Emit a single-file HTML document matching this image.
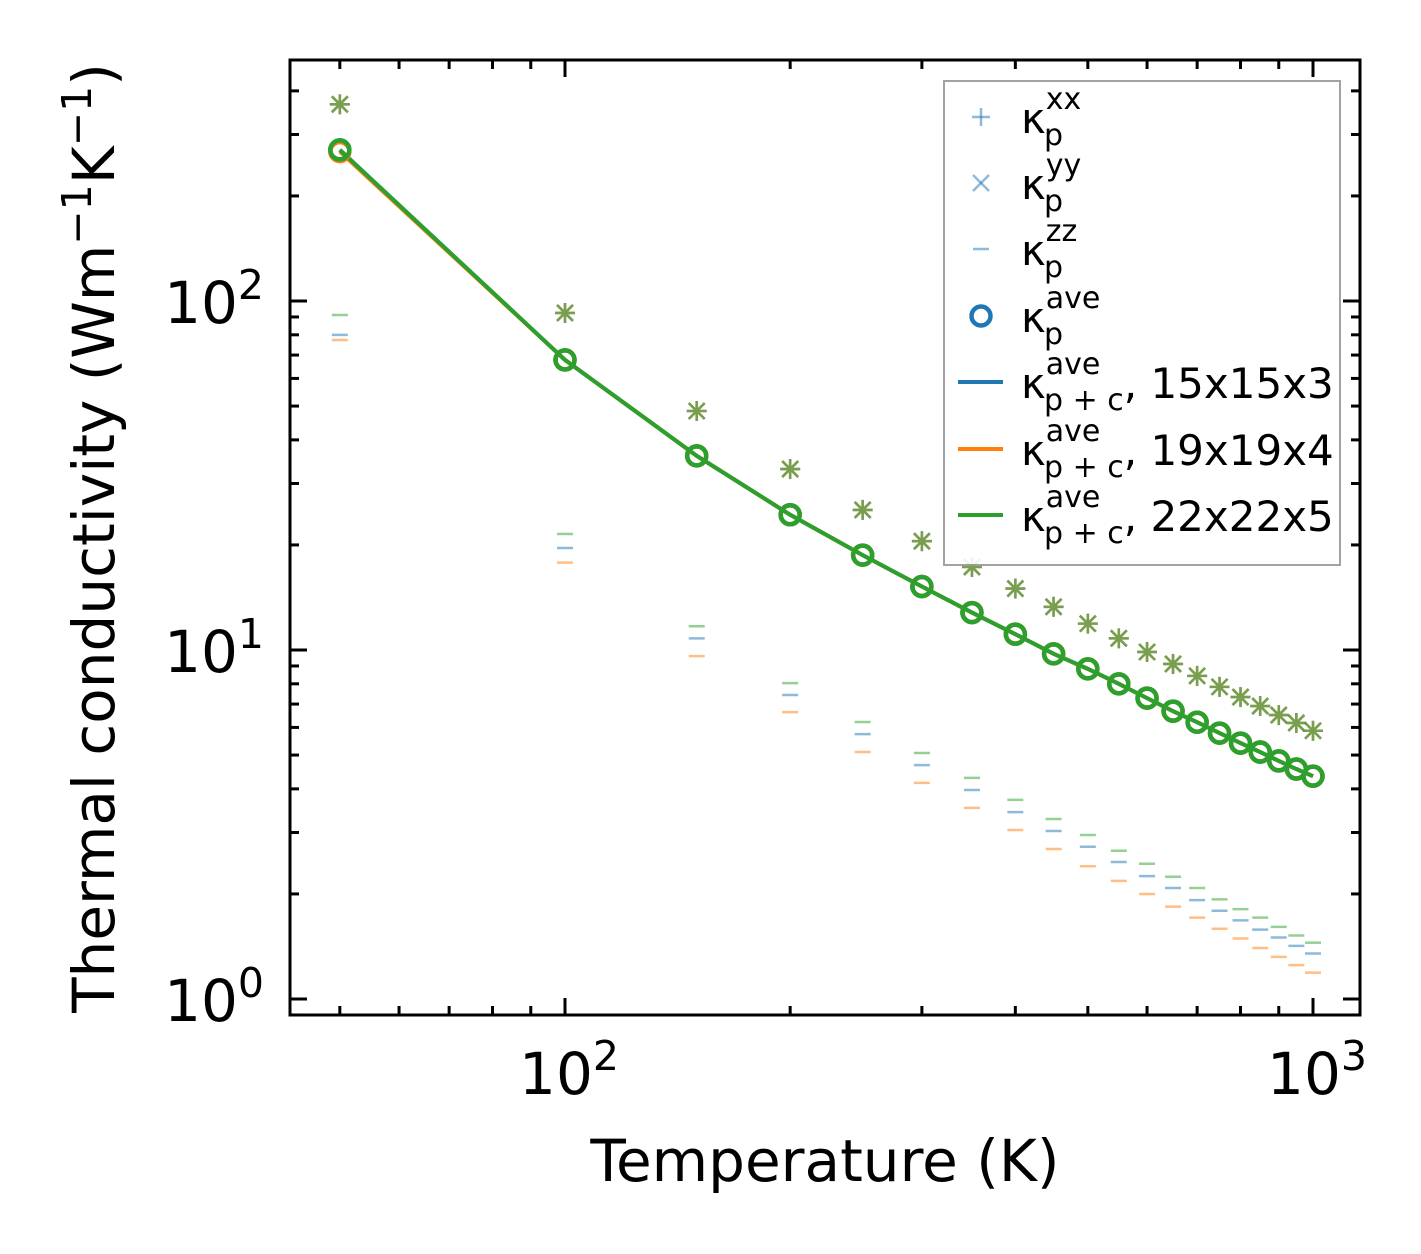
<!DOCTYPE html>
<html><head><meta charset="utf-8"><style>
html,body{margin:0;padding:0;background:#fff}
svg{display:block;font-family:"DejaVu Sans","Liberation Sans",sans-serif}
</style></head><body>
<svg id="chart" width="1421" height="1254" viewBox="0 0 1421 1254">
</svg>
<script>
const temps=[50,100,150,200,250,300,350,400,450,500,550,600,650,700,750,800,850,900,950,1000];
const kxx=[366,92.4,48.4,33,25.2,20.5,17.3,15,13.3,11.9,10.8,9.87,9.12,8.43,7.84,7.33,6.91,6.51,6.18,5.87];
const kzzBlue=[80,19.6,10.8,7.43,5.74,4.68,3.97,3.43,3.03,2.73,2.47,2.25,2.08,1.92,1.79,1.68,1.58,1.50,1.42,1.35];
const kzzOrange=[77.3,17.8,9.6,6.64,5.1,4.16,3.53,3.05,2.69,2.40,2.18,2.0,1.84,1.71,1.59,1.49,1.40,1.32,1.25,1.19];
const kzzGreen=[91.2,21.5,11.7,8.04,6.22,5.07,4.3,3.72,3.28,2.95,2.66,2.44,2.24,2.08,1.93,1.81,1.71,1.61,1.52,1.45];
const kave15=[271,67.8,36,24.4,18.7,15.2,12.8,11.1,9.75,8.83,8.0,7.28,6.68,6.21,5.78,5.41,5.1,4.81,4.56,4.35];
const kave19=[268,67.8,36,24.4,18.7,15.2,12.8,11.1,9.75,8.83,8.0,7.28,6.68,6.21,5.78,5.41,5.1,4.81,4.56,4.35];
const kave22=[271,67.8,36,24.4,18.7,15.2,12.8,11.1,9.75,8.83,8.0,7.28,6.68,6.21,5.78,5.41,5.1,4.81,4.56,4.35];
const xTickVals=[100,1000];
const yTickVals=[1,10,100];

const NS="http://www.w3.org/2000/svg";
const svg=document.getElementById('chart');
const L=290,R=1360,T=60,B=1015;
const sx=v=>565+748*(Math.log10(v)-2);
const sy=v=>999-349*Math.log10(v);
function el(tag,attrs,parent){const e=document.createElementNS(NS,tag);for(const k in attrs)e.setAttribute(k,attrs[k]);(parent||svg).appendChild(e);return e;}
const C={b:'#1f77b4',o:'#ff7f0e',g:'#2ca02c'};

const defs=el('defs',{});const cp=el('clipPath',{id:'clip'},defs);el('rect',{x:L,y:T,width:R-L,height:B-T},cp);
const plot=el('g',{'clip-path':'url(#clip)'});



[[kzzBlue,C.b],[kzzOrange,C.o],[kzzGreen,C.g]].forEach(([arr,c])=>{
  arr.forEach((v,i)=>{const x=sx(temps[i]),y=sy(v);
    const m=el('line',{x1:x-8,x2:x+8,y1:y,y2:y,stroke:c,'stroke-width':2.5,opacity:0.5},plot);
    
    });
});
[C.b,C.o,C.g].forEach(c=>{
  kxx.forEach((v,i)=>{const x=sx(temps[i]),y=sy(v);
    const g=el('g',{stroke:c,'stroke-width':2.6,opacity:0.5},plot);
    
    
    el('line',{x1:x-10,x2:x+10,y1:y,y2:y},g);el('line',{x1:x,x2:x,y1:y-10,y2:y+10},g);
    el('line',{x1:x-8,x2:x+8,y1:y-8,y2:y+8},g);el('line',{x1:x-8,x2:x+8,y1:y+8,y2:y-8},g);});
});
[[kave15,C.b,'line-15x15x3'],[kave19,C.o,'line-19x19x4'],[kave22,C.g,'line-22x22x5']].forEach(([arr,c,n])=>{
  const p=el('polyline',{points:arr.map((v,i)=>sx(temps[i])+','+sy(v)).join(' '),fill:'none',stroke:c,'stroke-width':4},plot);
  
  
});
[[kave15,C.b],[kave19,C.o],[kave22,C.g]].forEach(([arr,c])=>{
  arr.forEach((v,i)=>{const ci=el('circle',{cx:sx(temps[i]),cy:sy(v),r:9.5,fill:'none',stroke:c,'stroke-width':4.5},plot);
    
    });
});

const fr=el('rect',{x:L,y:T,width:R-L,height:B-T,fill:'none',stroke:'#000','stroke-width':3});



const tg=el('g',{stroke:'#000','stroke-width':3});


for(let d=1;d<=3;d++)for(let k=1;k<10;k++){const v=k*Math.pow(10,d);const x=sx(v);if(x<L||x>R)continue;
  const len=k==1?17:9;el('line',{x1:x,x2:x,y1:B,y2:B-len},tg);el('line',{x1:x,x2:x,y1:T,y2:T+len},tg);}
for(let d=-1;d<=2;d++)for(let k=1;k<10;k++){const v=k*Math.pow(10,d);const y=sy(v);if(y<T||y>B)continue;
  const len=k==1?17:9;el('line',{x1:L,x2:L+len,y1:y,y2:y},tg);el('line',{x1:R,x2:R-len,y1:y,y2:y},tg);}

xTickVals.forEach(v=>{const t=el('text',{x:sx(v)+4,y:1094,'text-anchor':'middle','font-size':58});
  
  
  const e=Math.round(Math.log10(v));t.innerHTML='10<tspan dy="-24" font-size="41">'+e+'</tspan>';});
yTickVals.forEach(v=>{const t=el('text',{x:264,y:sy(v)+22,'text-anchor':'end','font-size':58});
  
  
  const e=Math.round(Math.log10(v));t.innerHTML='10<tspan dy="-24" font-size="41">'+e+'</tspan>';});

const xt=el('text',{x:825,y:1181,'text-anchor':'middle','font-size':58});xt.textContent='Temperature (K)';


const yt=el('text',{x:0,y:0,'text-anchor':'middle','font-size':58,transform:'translate(114,538) rotate(-90)'});
yt.innerHTML='Thermal conductivity (Wm<tspan dy="-23" font-size="41">−1</tspan><tspan dy="23">K</tspan><tspan dy="-23" font-size="41">−1</tspan><tspan dy="23">)</tspan>';



const lg=el('g',{});


el('rect',{x:944,y:81,width:396,height:484,fill:'#fff',stroke:'#999','stroke-width':2,opacity:0.9},lg);
const rows=[
 {y:117,sup:'xx',sub:'p',tail:'',m:'plus'},
 {y:183,sup:'yy',sub:'p',tail:'',m:'x'},
 {y:249,sup:'zz',sub:'p',tail:'',m:'dash'},
 {y:316,sup:'ave',sub:'p',tail:'',m:'circle'},
 {y:382,sup:'ave',sub:'p + c',tail:', 15x15x3',m:'line',c:C.b},
 {y:449,sup:'ave',sub:'p + c',tail:', 19x19x4',m:'line',c:C.o},
 {y:515,sup:'ave',sub:'p + c',tail:', 22x22x5',m:'line',c:C.g}];
rows.forEach(r=>{
  const g=el('g',{},lg);
  
  
  const x=981,y=r.y;
  if(r.m=='plus'){el('line',{x1:x-9,x2:x+9,y1:y,y2:y,stroke:C.b,'stroke-width':2.5,opacity:0.5},g);el('line',{x1:x,x2:x,y1:y-9,y2:y+9,stroke:C.b,'stroke-width':2.5,opacity:0.5},g);}
  if(r.m=='x'){el('line',{x1:x-8,x2:x+8,y1:y-8,y2:y+8,stroke:C.b,'stroke-width':2.5,opacity:0.5},g);el('line',{x1:x-8,x2:x+8,y1:y+8,y2:y-8,stroke:C.b,'stroke-width':2.5,opacity:0.5},g);}
  if(r.m=='dash')el('line',{x1:x-8,x2:x+8,y1:y,y2:y,stroke:C.b,'stroke-width':2.5,opacity:0.5},g);
  if(r.m=='circle')el('circle',{cx:x,cy:y,r:9.5,fill:'none',stroke:C.b,'stroke-width':4.5},g);
  if(r.m=='line')el('line',{x1:958,x2:1003,y1:y,y2:y,stroke:r.c,'stroke-width':4},g);
  const t=el('text',{x:1021,y:y+16,'font-size':42},g);
  t.innerHTML='κ<tspan dy="-24" font-size="30">'+r.sup+'</tspan><tspan x="1044" dy="36" font-size="30">'+r.sub+'</tspan>'+(r.tail?'<tspan dy="-12" font-size="42">'+r.tail+'</tspan>':'');
});
</script>
</body></html>
